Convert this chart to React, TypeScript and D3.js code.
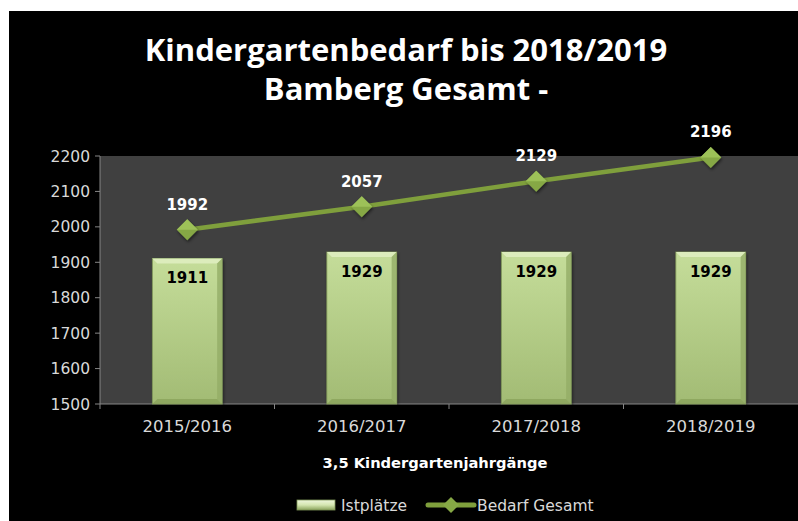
import React from "react";
import * as d3 from "d3";

const categories = ["2015/2016", "2016/2017", "2017/2018", "2018/2019"];
const istplaetze = [1911, 1929, 1929, 1929];
const bedarf = [1992, 2057, 2129, 2196];
const yTicks = [1500, 1600, 1700, 1800, 1900, 2000, 2100, 2200];
const titleLines = ["Kindergartenbedarf bis 2018/2019", "Bamberg Gesamt -"];
const xTitle = "3,5 Kindergartenjahrgänge";
const legendLabels = ["Istplätze", "Bedarf Gesamt"];

const W = 798, H = 521;
const plot = { left: 100, right: 798, top: 156, bottom: 404 };
const FONT = "'DejaVu Sans', sans-serif";
const TFONT = "'Open Sans', sans-serif";

export default function App() {
  const x = d3.scaleBand<string>().domain(categories).range([plot.left, plot.right]).paddingInner(0.6).paddingOuter(0.3);
  const band = d3.scaleBand<string>().domain(categories).range([plot.left, plot.right]);
  const y = d3.scaleLinear().domain([1500, 2200]).range([plot.bottom, plot.top]);
  const line = d3.line<number>().x((_, i) => band(categories[i])! + band.bandwidth() / 2).y(d => y(d));
  const bw = x.bandwidth();
  const bev = 5;
  return (
    <svg width={W} height={H} style={{ position: "absolute", left: 0, top: 0 }}>
      <defs>
        <linearGradient id="barG" x1="0" y1="0" x2="0" y2="1">
          <stop offset="0" stopColor="#c5dd9a" />
          <stop offset="1" stopColor="#a2bb74" />
        </linearGradient>
        <linearGradient id="legG" x1="0" y1="0" x2="0" y2="1">
          <stop offset="0" stopColor="#eef6dc" />
          <stop offset="0.5" stopColor="#d4e6b0" />
          <stop offset="1" stopColor="#8aa35c" />
        </linearGradient>
        <filter id="sh" x="-20%" y="-20%" width="140%" height="140%">
          <feDropShadow dx="1" dy="2" stdDeviation="1.5" floodColor="#000" floodOpacity="0.5" />
        </filter>
      </defs>
      <rect x={9} y={11} width={W - 9} height={H - 11} fill="#000" />
      {titleLines.map((t, i) => (
        <text key={t} x={406} y={61 + i * 39} textAnchor="middle" fill="#fff" fontFamily={TFONT} fontWeight="bold" fontSize={31}>{t}</text>
      ))}
      <rect x={plot.left} y={plot.top} width={plot.right - plot.left} height={plot.bottom - plot.top} fill="#404040" />
      {/* y axis */}
      <line x1={plot.left} x2={plot.left} y1={plot.top} y2={plot.bottom} stroke="#868686" />
      {yTicks.map(t => (
        <g key={t}>
          <line x1={plot.left - 5} x2={plot.left} y1={y(t)} y2={y(t)} stroke="#868686" />
          <text x={plot.left - 10} y={y(t)} dy="0.36em" textAnchor="end" fill="#d9d9d9" fontFamily={FONT} fontSize={15.5}>{t}</text>
        </g>
      ))}
      {/* x axis */}
      <line x1={plot.left} x2={plot.right} y1={plot.bottom} y2={plot.bottom} stroke="#868686" />
      {categories.map((c, i) => (
        <g key={c}>
          <line x1={band(c)!} x2={band(c)!} y1={plot.bottom} y2={plot.bottom + 5} stroke="#868686" />
          <text x={band(c)! + band.bandwidth() / 2} y={432} textAnchor="middle" fill="#d9d9d9" fontFamily={FONT} fontSize={16.5}>{c}</text>
        </g>
      ))}
      <text x={435} y={468} textAnchor="middle" fill="#fff" fontFamily={FONT} fontWeight="bold" fontSize={14.7}>{xTitle}</text>
      {/* bars */}
      {istplaetze.map((v, i) => {
        const bx = x(categories[i])!;
        const by = y(v);
        const bh = plot.bottom - by;
        return (
          <g key={i} filter="url(#sh)">
            <rect x={bx} y={by} width={bw} height={bh} fill="url(#barG)" stroke="#7f9758" strokeWidth={0.8} />
            <polygon points={`${bx},${by} ${bx + bw},${by} ${bx + bw - bev},${by + bev} ${bx + bev},${by + bev}`} fill="#dcecbc" />
            <polygon points={`${bx + bw},${by} ${bx + bw},${by + bh} ${bx + bw - bev},${by + bh - bev} ${bx + bw - bev},${by + bev}`} fill="#94ad66" opacity={0.8} />
            <polygon points={`${bx},${by + bh} ${bx + bw},${by + bh} ${bx + bw - bev},${by + bh - bev} ${bx + bev},${by + bh - bev}`} fill="#8aa35c" opacity={0.8} />
          </g>
        );
      })}
      {istplaetze.map((v, i) => (
        <text key={i} x={x(categories[i])! + bw / 2} y={y(v) + 25} textAnchor="middle" fill="#000" fontFamily={FONT} fontWeight="bold" fontSize={15}>{v}</text>
      ))}
      {/* line */}
      <path d={line(bedarf)!} fill="none" stroke="#7f9f3c" strokeWidth={4.5} />
      {bedarf.map((v, i) => {
        const cx = band(categories[i])! + band.bandwidth() / 2;
        const cy = y(v);
        const r = 10.5;
        return (
          <g key={i} filter="url(#sh)">
            <polygon points={`${cx},${cy - r} ${cx + r},${cy} ${cx},${cy + r} ${cx - r},${cy}`} fill="#86a845" />
            <polygon points={`${cx},${cy - r} ${cx + r},${cy} ${cx - r},${cy}`} fill="#9dc158" />
          </g>
        );
      })}
      {bedarf.map((v, i) => (
        <text key={i} x={band(categories[i])! + band.bandwidth() / 2} y={y(v) - 20} textAnchor="middle" fill="#fff" fontFamily={FONT} fontWeight="bold" fontSize={15}>{v}</text>
      ))}
      {/* legend */}
      <rect x={297} y={500} width={38} height={10} fill="url(#legG)" stroke="#7f9758" strokeWidth={0.8} />
      <text x={341} y={511} fill="#d9d9d9" fontFamily={FONT} fontSize={15.5}>{legendLabels[0]}</text>
      <line x1={428} x2={474} y1={505} y2={505} stroke="#7f9f3c" strokeWidth={5} strokeLinecap="round" />
      <polygon points="451,497 459,505 451,513 443,505" fill="#86a845" />
      <text x={477} y={511} fill="#d9d9d9" fontFamily={FONT} fontSize={15.5}>{legendLabels[1]}</text>
    </svg>
  );
}
